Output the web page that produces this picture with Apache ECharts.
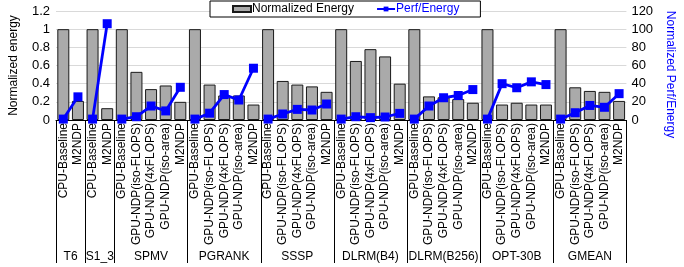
<!DOCTYPE html>
<html>
<head>
<meta charset="utf-8">
<script src="https://cdn.jsdelivr.net/npm/echarts@6/dist/echarts.min.js"></script>
<style>
  html, body { margin: 0; padding: 0; background: #fff; }
  #chart { width: 684px; height: 267px; }
</style>
</head>
<body>
<div id="chart"></div>
<script>
const FONT = 'Liberation Sans, Arial, sans-serif'

// x categories, grouped per workload
const groupNames = ['T6', 'S1_3', 'SPMV', 'PGRANK', 'SSSP', 'DLRM(B4)', 'DLRM(B256)', 'OPT-30B', 'GMEAN']
const groupSpans = [2, 2, 5, 5, 5, 5, 5, 5, 5]
const cpuConfigs = ['CPU-Baseline', 'M2NDP']
const gpuConfigs = ['GPU-Baseline', 'GPU-NDP(iso-FLOPS)', 'GPU-NDP(4xFLOPS)', 'GPU-NDP(iso-area)', 'M2NDP']
const categories = groupSpans.flatMap(n => n === 2 ? cpuConfigs : gpuConfigs)

// normalized energy (left axis)
const energy = [
  1, 0.21,
  1, 0.13,
  1, 0.53, 0.34, 0.38, 0.2,
  1, 0.39, 0.27, 0.27, 0.17,
  1, 0.43, 0.39, 0.37, 0.31,
  1, 0.65, 0.78, 0.7, 0.4,
  1, 0.26, 0.25, 0.23, 0.19,
  1, 0.17, 0.19, 0.17, 0.17,
  1, 0.36, 0.32, 0.31, 0.21
]

// normalized perf/energy (right axis)
const perfEnergy = [
  1, 25.5,
  1, 106,
  1, 3.6, 15.4, 10, 36,
  1, 7.5, 28, 22, 57,
  1, 6.6, 11.7, 11, 17.6,
  1, 3.6, 2.6, 3.3, 7.3,
  1, 15.4, 24.5, 27, 33.5,
  1, 40, 35.5, 42, 39,
  1, 8, 16, 14, 29
]

// group boundaries and centres on a 0..N scale
const bounds = [0]
groupSpans.forEach(n => bounds.push(bounds[bounds.length - 1] + n))
const centres = groupSpans.map((n, i) => bounds[i] + n / 2)

const chart = echarts.init(document.getElementById('chart'))

// one line per group so the segments don't join across groups
const lineSeries = groupSpans.map((n, gi) => ({
  name: 'Perf/Energy',
  type: 'line',
  yAxisIndex: 1,
  data: perfEnergy.map((v, i) => (i >= bounds[gi] && i < bounds[gi + 1]) ? v : null),
  connectNulls: false,
  symbol: 'rect',
  symbolSize: 9,
  lineStyle: { color: '#0000ff', width: 2.8 },
  itemStyle: { color: '#0000ff' },
  z: 5,
  animation: false
}))

chart.setOption({
  animation: false,
  textStyle: { fontFamily: FONT },
  legend: {
    left: 210,
    top: 1,
    padding: [2, 21, 2, 22],
    itemGap: 22,
    itemWidth: 18,
    itemHeight: 6,
    borderColor: '#000',
    borderWidth: 1,
    backgroundColor: '#fff',
    textStyle: { fontSize: 12, color: '#000', padding: [0, 0, 0, -4] },
    data: [
      { name: 'Normalized Energy', icon: 'rect' },
      { name: 'Perf/Energy', textStyle: { color: '#0000ff' } }
    ]
  },
  grid: { left: 56, right: 55, top: 11, bottom: 147 },
  xAxis: [
    {
      type: 'category',
      data: categories,
      axisLine: { lineStyle: { color: '#000', width: 1 } },
      axisTick: { show: false },
      axisLabel: { rotate: 90, interval: 0, fontSize: 12, color: '#000', margin: 3 }
    },
    {
      type: 'value',
      min: 0,
      max: categories.length,
      position: 'bottom',
      axisLine: { show: false },
      splitLine: { show: false },
      axisTick: { show: true, customValues: bounds, length: 143, lineStyle: { color: '#000', width: 1 } },
      axisLabel: {
        customValues: centres,
        fontSize: 12,
        color: '#000',
        margin: 131,
        formatter: v => groupNames[centres.indexOf(v)] ?? ''
      }
    }
  ],
  yAxis: [
    {
      type: 'value',
      min: 0,
      max: 1.2,
      interval: 0.2,
      name: 'Normalized energy',
      nameLocation: 'middle',
      nameGap: 36,
      nameTextStyle: { fontSize: 12, color: '#000' },
      axisLine: { show: false },
      axisTick: { show: false },
      axisLabel: { fontSize: 13, color: '#000', margin: 6 },
      splitLine: { lineStyle: { color: '#d9d9d9', width: 1 } }
    },
    {
      type: 'value',
      min: 0,
      max: 120,
      interval: 20,
      name: 'Normalized Perf/Energy',
      nameLocation: 'middle',
      nameRotate: -90,
      nameGap: 34,
      nameTextStyle: { fontSize: 12, color: '#0000ff', padding: [0, 0, 0, 18] },
      axisLine: { show: false },
      axisTick: { show: false },
      axisLabel: { fontSize: 13, color: '#000', margin: 5 },
      splitLine: { show: false }
    }
  ],
  series: [
    {
      name: 'Normalized Energy',
      type: 'bar',
      data: energy,
      barCategoryGap: '18%',
      itemStyle: { color: '#aaaaaa', borderColor: '#1a1a1a', borderWidth: 1 },
      z: 2
    },
    ...lineSeries
  ]
})
</script>
</body>
</html>
